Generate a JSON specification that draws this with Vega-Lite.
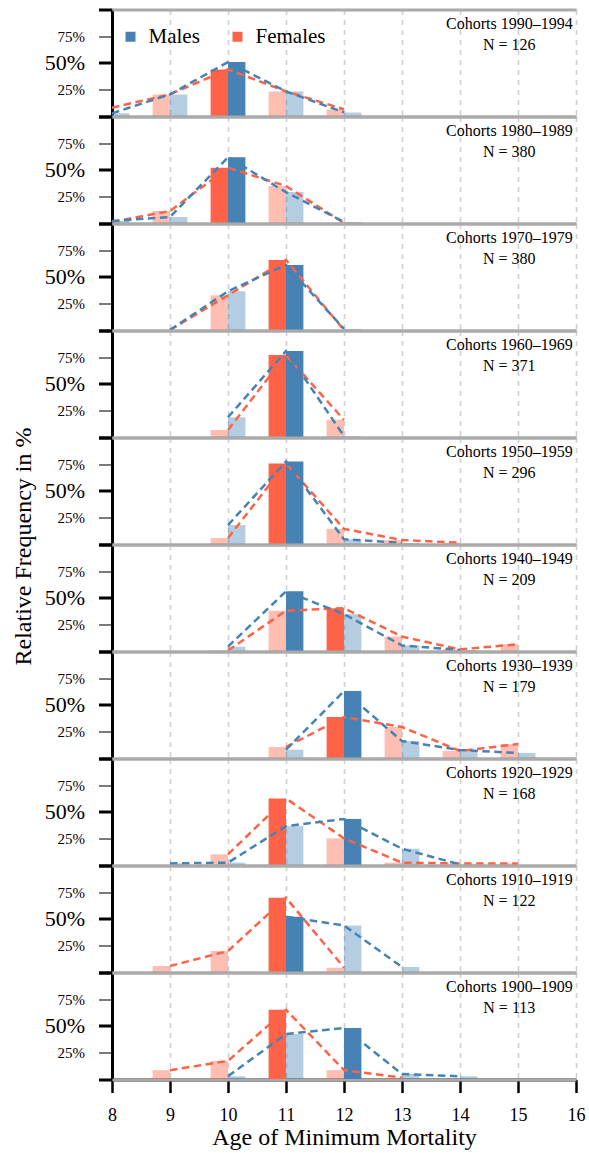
{
  "$schema": "https://vega.github.io/schema/vega-lite/v6.json",
  "padding": {"left": 11, "top": 7.5, "right": 4, "bottom": 0},
  "bounds": "flush",
  "config": {"font": "Liberation Serif", "view": {"stroke": null}},
  "data": {"values": [
    {"cohort": "1990–1994", "sex": "Females", "age": 8, "pct": 7.8, "title": "Cohorts 1990–1994", "n": "N = 126"},
    {"cohort": "1990–1994", "sex": "Females", "age": 9, "pct": 20.3},
    {"cohort": "1990–1994", "sex": "Females", "age": 10, "pct": 43.7},
    {"cohort": "1990–1994", "sex": "Females", "age": 11, "pct": 23.1},
    {"cohort": "1990–1994", "sex": "Females", "age": 12, "pct": 6.3},
    {"cohort": "1990–1994", "sex": "Males", "age": 8, "pct": 2.5},
    {"cohort": "1990–1994", "sex": "Males", "age": 9, "pct": 20.3},
    {"cohort": "1990–1994", "sex": "Males", "age": 10, "pct": 50.6},
    {"cohort": "1990–1994", "sex": "Males", "age": 11, "pct": 23.1},
    {"cohort": "1990–1994", "sex": "Males", "age": 12, "pct": 3.4},

    {"cohort": "1980–1989", "sex": "Females", "age": 8, "pct": 1, "title": "Cohorts 1980–1989", "n": "N = 380"},
    {"cohort": "1980–1989", "sex": "Females", "age": 9, "pct": 11.3},
    {"cohort": "1980–1989", "sex": "Females", "age": 10, "pct": 51.9},
    {"cohort": "1980–1989", "sex": "Females", "age": 11, "pct": 34.7},
    {"cohort": "1980–1989", "sex": "Females", "age": 12, "pct": 0},
    {"cohort": "1980–1989", "sex": "Males", "age": 8, "pct": 1.9},
    {"cohort": "1980–1989", "sex": "Males", "age": 9, "pct": 5.6},
    {"cohort": "1980–1989", "sex": "Males", "age": 10, "pct": 61.7},
    {"cohort": "1980–1989", "sex": "Males", "age": 11, "pct": 29},
    {"cohort": "1980–1989", "sex": "Males", "age": 12, "pct": 1},

    {"cohort": "1970–1979", "sex": "Females", "age": 9, "pct": 0, "title": "Cohorts 1970–1979", "n": "N = 380"},
    {"cohort": "1970–1979", "sex": "Females", "age": 10, "pct": 32.6},
    {"cohort": "1970–1979", "sex": "Females", "age": 11, "pct": 65.8},
    {"cohort": "1970–1979", "sex": "Females", "age": 12, "pct": 0},
    {"cohort": "1970–1979", "sex": "Males", "age": 9, "pct": 0},
    {"cohort": "1970–1979", "sex": "Males", "age": 10, "pct": 36.4},
    {"cohort": "1970–1979", "sex": "Males", "age": 11, "pct": 61.1},
    {"cohort": "1970–1979", "sex": "Males", "age": 12, "pct": 1},

    {"cohort": "1960–1969", "sex": "Females", "age": 10, "pct": 6.6, "title": "Cohorts 1960–1969", "n": "N = 371"},
    {"cohort": "1960–1969", "sex": "Females", "age": 11, "pct": 76.9},
    {"cohort": "1960–1969", "sex": "Females", "age": 12, "pct": 16.1},
    {"cohort": "1960–1969", "sex": "Males", "age": 10, "pct": 18.5},
    {"cohort": "1960–1969", "sex": "Males", "age": 11, "pct": 80.7},
    {"cohort": "1960–1969", "sex": "Males", "age": 12, "pct": 0.8},

    {"cohort": "1950–1959", "sex": "Females", "age": 10, "pct": 5.6, "title": "Cohorts 1950–1959", "n": "N = 296"},
    {"cohort": "1950–1959", "sex": "Females", "age": 11, "pct": 75.6},
    {"cohort": "1950–1959", "sex": "Females", "age": 12, "pct": 14.2},
    {"cohort": "1950–1959", "sex": "Females", "age": 13, "pct": 3.7},
    {"cohort": "1950–1959", "sex": "Females", "age": 14, "pct": 1.2},
    {"cohort": "1950–1959", "sex": "Males", "age": 10, "pct": 17.8},
    {"cohort": "1950–1959", "sex": "Males", "age": 11, "pct": 77.5},
    {"cohort": "1950–1959", "sex": "Males", "age": 12, "pct": 4.5},
    {"cohort": "1950–1959", "sex": "Males", "age": 13, "pct": 1},

    {"cohort": "1940–1949", "sex": "Females", "age": 10, "pct": 0.5, "title": "Cohorts 1940–1949", "n": "N = 209"},
    {"cohort": "1940–1949", "sex": "Females", "age": 11, "pct": 37.8},
    {"cohort": "1940–1949", "sex": "Females", "age": 12, "pct": 40.2},
    {"cohort": "1940–1949", "sex": "Females", "age": 13, "pct": 13.5},
    {"cohort": "1940–1949", "sex": "Females", "age": 14, "pct": 1.5},
    {"cohort": "1940–1949", "sex": "Females", "age": 15, "pct": 6.3},
    {"cohort": "1940–1949", "sex": "Males", "age": 10, "pct": 4.1},
    {"cohort": "1940–1949", "sex": "Males", "age": 11, "pct": 56},
    {"cohort": "1940–1949", "sex": "Males", "age": 12, "pct": 34.6},
    {"cohort": "1940–1949", "sex": "Males", "age": 13, "pct": 5.2},
    {"cohort": "1940–1949", "sex": "Males", "age": 14, "pct": 1},

    {"cohort": "1930–1939", "sex": "Females", "age": 11, "pct": 10.3, "title": "Cohorts 1930–1939", "n": "N = 179"},
    {"cohort": "1930–1939", "sex": "Females", "age": 12, "pct": 38.5},
    {"cohort": "1930–1939", "sex": "Females", "age": 13, "pct": 29.1},
    {"cohort": "1930–1939", "sex": "Females", "age": 14, "pct": 6.6},
    {"cohort": "1930–1939", "sex": "Females", "age": 15, "pct": 13.1},
    {"cohort": "1930–1939", "sex": "Males", "age": 11, "pct": 7.8},
    {"cohort": "1930–1939", "sex": "Males", "age": 12, "pct": 62.8},
    {"cohort": "1930–1939", "sex": "Males", "age": 13, "pct": 15.9},
    {"cohort": "1930–1939", "sex": "Males", "age": 14, "pct": 7.5},
    {"cohort": "1930–1939", "sex": "Males", "age": 15, "pct": 4.7},

    {"cohort": "1920–1929", "sex": "Females", "age": 10, "pct": 10, "title": "Cohorts 1920–1929", "n": "N = 168"},
    {"cohort": "1920–1929", "sex": "Females", "age": 11, "pct": 62.5},
    {"cohort": "1920–1929", "sex": "Females", "age": 12, "pct": 25},
    {"cohort": "1920–1929", "sex": "Females", "age": 13, "pct": 2.2},
    {"cohort": "1920–1929", "sex": "Females", "age": 14, "pct": 1.5},
    {"cohort": "1920–1929", "sex": "Females", "age": 15, "pct": 1.5},
    {"cohort": "1920–1929", "sex": "Males", "age": 9, "pct": 1.5},
    {"cohort": "1920–1929", "sex": "Males", "age": 10, "pct": 2.2},
    {"cohort": "1920–1929", "sex": "Males", "age": 11, "pct": 36.5},
    {"cohort": "1920–1929", "sex": "Males", "age": 12, "pct": 43.2},
    {"cohort": "1920–1929", "sex": "Males", "age": 13, "pct": 15.3},
    {"cohort": "1920–1929", "sex": "Males", "age": 14, "pct": 0.5},

    {"cohort": "1910–1919", "sex": "Females", "age": 9, "pct": 5.6, "title": "Cohorts 1910–1919", "n": "N = 122"},
    {"cohort": "1910–1919", "sex": "Females", "age": 10, "pct": 19.7},
    {"cohort": "1910–1919", "sex": "Females", "age": 11, "pct": 69.7},
    {"cohort": "1910–1919", "sex": "Females", "age": 12, "pct": 4.1},
    {"cohort": "1910–1919", "sex": "Males", "age": 11, "pct": 51.9},
    {"cohort": "1910–1919", "sex": "Males", "age": 12, "pct": 43.7},
    {"cohort": "1910–1919", "sex": "Males", "age": 13, "pct": 4.7},

    {"cohort": "1900–1909", "sex": "Females", "age": 9, "pct": 8.3, "title": "Cohorts 1900–1909", "n": "N = 113"},
    {"cohort": "1900–1909", "sex": "Females", "age": 10, "pct": 17},
    {"cohort": "1900–1909", "sex": "Females", "age": 11, "pct": 65},
    {"cohort": "1900–1909", "sex": "Females", "age": 12, "pct": 8.3},
    {"cohort": "1900–1909", "sex": "Females", "age": 13, "pct": 1.2},
    {"cohort": "1900–1909", "sex": "Males", "age": 10, "pct": 2.6},
    {"cohort": "1900–1909", "sex": "Males", "age": 11, "pct": 42.2},
    {"cohort": "1900–1909", "sex": "Males", "age": 12, "pct": 48},
    {"cohort": "1900–1909", "sex": "Males", "age": 13, "pct": 4.7},
    {"cohort": "1900–1909", "sex": "Males", "age": 14, "pct": 2.6}
  ]},
  "facet": {
    "row": {
      "field": "cohort", "type": "nominal", "sort": "descending",
      "header": {
        "labels": false,
        "title": "Relative Frequency in %",
        "titleFont": "Liberation Serif", "titleFontSize": 24, "titleFontWeight": "normal", "titleColor": "black",
        "titlePadding": -2
      }
    }
  },
  "spacing": 0,
  "spec": {
    "width": 464,
    "height": 106.5,
    "encoding": {
      "x": {
        "field": "age", "type": "quantitative",
        "scale": {"domain": [8, 16], "nice": false, "zero": false, "padding": 0},
        "axis": {
          "values": [8, 9, 10, 11, 12, 13, 14, 15, 16],
          "grid": true, "gridDash": [5, 5], "gridColor": "#cfcfcf", "gridWidth": 1.6,
          "gridOpacity": {"condition": {"test": "datum.value == 8", "value": 0}, "value": 1},
          "domainColor": "black", "domainWidth": 3,
          "tickColor": "black", "tickWidth": 2.5, "tickSize": 13,
          "labelFont": "Liberation Serif", "labelFontSize": 18, "labelColor": "black", "labelPadding": 14,
          "labelFlush": false, "labelOverlap": false,
          "title": "Age of Minimum Mortality",
          "titleFont": "Liberation Serif", "titleFontSize": 24, "titleFontWeight": "normal", "titleColor": "black", "titlePadding": 1
        }
      },
      "y": {
        "field": "pct", "type": "quantitative",
        "scale": {"domain": [0, 100], "nice": false, "padding": 0},
        "axis": {
          "values": [0, 25, 50, 75, 100],
          "title": null,
          "grid": true, "gridColor": "#aaaaaa", "gridWidth": 3,
          "gridOpacity": {"condition": {"test": "datum.value == 0 || datum.value == 100", "value": 1}, "value": 0},
          "domainColor": "black", "domainWidth": 3,
          "tickColor": {"condition": {"test": "datum.value == 25 || datum.value == 75", "value": "#333333"}, "value": "black"},
          "tickWidth": {"condition": {"test": "datum.value == 25 || datum.value == 75", "value": 1.3}, "value": 3},
          "tickSize": 13.5,
          "labelExpr": "datum.value == 0 || datum.value == 100 ? '' : datum.value + '%'",
          "labelFont": "Liberation Serif",
          "labelFontSize": {"condition": [
            {"test": "datum.value == 50", "value": 22},
            {"test": "datum.value == 0 || datum.value == 100", "value": 0}
          ], "value": 15},
          "labelColor": "black", "labelPadding": 14, "labelFlush": false, "labelOverlap": false
        }
      }
    },
    "layer": [
      {
        "transform": [
          {"filter": {"field": "sex", "equal": "Females"}},
          {"joinaggregate": [{"op": "max", "field": "pct", "as": "maxpct"}], "groupby": ["cohort", "sex"]}
        ],
        "mark": {"type": "bar", "width": 17.4, "xOffset": -8.7, "clip": true},
        "encoding": {
          "color": {
            "field": "sex", "type": "nominal",
            "scale": {"domain": ["Males", "Females"], "range": ["#4682B4", "#FF6347"]},
            "legend": {
              "orient": "none", "direction": "horizontal", "legendX": 8, "legendY": 16.5,
              "title": null, "symbolType": "square", "symbolSize": 100, "symbolStrokeWidth": 0, "symbolOpacity": 1,
              "labelFont": "Liberation Serif", "labelFontSize": 21, "labelColor": "black",
              "labelOffset": 7.5, "columnPadding": 27
            }
          },
          "opacity": {"condition": {"test": "datum.pct == datum.maxpct", "value": 1}, "value": 0.42}
        }
      },
      {
        "transform": [
          {"filter": {"field": "sex", "equal": "Males"}},
          {"joinaggregate": [{"op": "max", "field": "pct", "as": "maxpct"}], "groupby": ["cohort", "sex"]}
        ],
        "mark": {"type": "bar", "width": 17.4, "xOffset": 8.7, "clip": true},
        "encoding": {
          "color": {"field": "sex", "type": "nominal"},
          "opacity": {"condition": {"test": "datum.pct == datum.maxpct", "value": 1}, "value": 0.4}
        }
      },
      {
        "mark": {"type": "line", "strokeDash": [7.5, 4.5], "strokeWidth": 2.5},
        "encoding": {
          "stroke": {
            "field": "sex", "type": "nominal",
            "scale": {"domain": ["Females", "Males"], "range": ["#FF6347", "#4682B4"]},
            "legend": null
          }
        }
      },
      {
        "transform": [{"filter": "isValid(datum.title)"}],
        "mark": {"type": "text", "align": "center", "baseline": "middle", "font": "Liberation Serif", "fontSize": 16, "color": "black"},
        "encoding": {
          "x": {"datum": 14.85},
          "y": {"datum": 86},
          "text": {"field": "title"}
        }
      },
      {
        "transform": [{"filter": "isValid(datum.title)"}],
        "mark": {"type": "text", "align": "center", "baseline": "middle", "font": "Liberation Serif", "fontSize": 16, "color": "black"},
        "encoding": {
          "x": {"datum": 14.85},
          "y": {"datum": 66.8},
          "text": {"field": "n"}
        }
      }
    ]
  }
}
